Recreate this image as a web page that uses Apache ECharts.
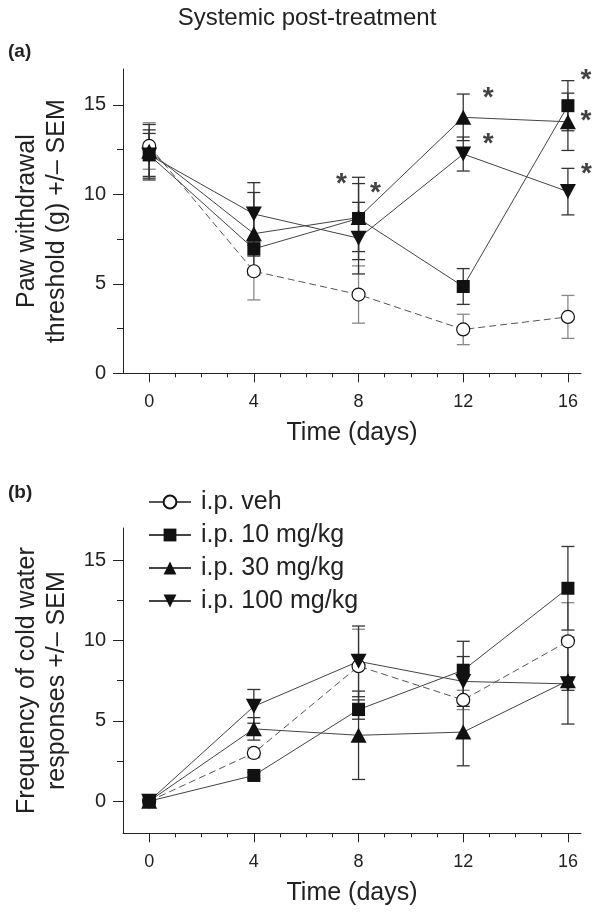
<!DOCTYPE html>
<html><head><meta charset="utf-8">
<script src="https://cdn.jsdelivr.net/npm/echarts@6/dist/echarts.min.js"></script>
<style>html,body{margin:0;padding:0;background:#fff}#c{width:602px;height:913px}</style>
</head><body><div id="c"></div>
<script>
// ---------- data ----------
const days = [0, 4, 8, 12, 16];
const tickDays = [0, 4, 8, 12, 16];
const minorDays = [1, 2, 3, 5, 6, 7, 9, 10, 11, 13, 14, 15];
const yMajor = [0, 5, 10, 15];
const yMinor = [2.5, 7.5, 12.5];
const groupNames = ['i.p. veh', 'i.p. 10 mg/kg', 'i.p. 30 mg/kg', 'i.p. 100 mg/kg'];

// (a) paw withdrawal threshold (g)
const pawVeh     = [12.7, 5.7, 4.4, 2.45, 3.15];
const pawVehErr  = [1.3, 1.6, 1.6, 0.85, 1.2];
const paw10      = [12.2, 6.95, 8.65, 4.85, 14.95];
const paw10Err   = [1.4, 0.4, 2.3, 1.0, 1.4];
const paw30      = [12.4, 7.8, 8.7, 14.3, 14.05];
const paw30Err   = [1.5, 2.3, 1.9, 1.3, 1.6];
const paw100     = [12.2, 8.9, 7.55, 12.25, 10.15];
const paw100Err  = [1.2, 1.75, 2.0, 0.95, 1.3];

// significance asterisks (a)
const starDay   = [7.35, 8.65, 12.95, 12.95, 16.69, 16.69, 16.71];
const starValue = [10.96, 10.45, 15.76, 13.2, 16.77, 14.46, 11.52];

// (b) frequency of cold water responses
const coldVeh    = [0, 3.0, 8.4, 6.3, 9.95];
const coldVehErr = [0, 0.3, 2.3, 0.6, 2.4];
const cold10     = [0, 1.6, 5.7, 8.15, 13.25];
const cold10Err  = [0, 0.2, 0.6, 1.8, 2.6];
const cold30     = [0, 4.5, 4.1, 4.3, 7.5];
const cold30Err  = [0, 0.7, 2.75, 2.1, 2.7];
const cold100    = [0, 5.9, 8.7, 7.45, 7.3];
const cold100Err = [0, 1.05, 2.2, 1.55, 0.4];

// ---------- chart ----------
const FF = 'Liberation Sans, Arial, Helvetica, sans-serif';
const TXT = '#222';
const downTri = 'path://M0,0L2,0L1,1.8Z';
const symbols = ['circle', 'rect', 'triangle', downTri];
const sizes = [13, 13, [16, 15], [16, 15]];
const fills = ['#fff', '#111', '#111', '#111'];
const errColors = ['#888', '#333', '#333', '#333'];

function lineSeries(k, vals, xi, yi) {
  return {
    type: 'line', name: groupNames[k], xAxisIndex: xi, yAxisIndex: yi, z: 3,
    data: days.map((d, i) => [d, vals[i]]),
    symbol: symbols[k], symbolSize: sizes[k], showAllSymbol: true,
    lineStyle: { color: k === 0 ? '#555' : '#444', width: 1, type: k === 0 ? [7, 4] : 'solid' },
    itemStyle: { color: fills[k], borderColor: '#111', borderWidth: k === 0 ? 1.2 : 0 },
    emphasis: { disabled: true }, animation: false
  };
}
function errSeries(k, vals, errs, xi, yi) {
  const color = errColors[k];
  return {
    type: 'custom', xAxisIndex: xi, yAxisIndex: yi, z: 2, silent: true, animation: false,
    data: days.map((d, i) => [d, vals[i] - errs[i], vals[i] + errs[i]]),
    renderItem(params, api) {
      const x = api.value(0);
      const lo = api.coord([x, api.value(1)]);
      const hi = api.coord([x, api.value(2)]);
      const w = 6.5, st = { stroke: color, lineWidth: 1.3 };
      return { type: 'group', children: [
        { type: 'line', shape: { x1: lo[0], y1: lo[1], x2: hi[0], y2: hi[1] }, style: st },
        { type: 'line', shape: { x1: lo[0] - w, y1: lo[1], x2: lo[0] + w, y2: lo[1] }, style: st },
        { type: 'line', shape: { x1: hi[0] - w, y1: hi[1], x2: hi[0] + w, y2: hi[1] }, style: st }
      ]};
    }
  };
}
function mainX(g) {
  return {
    gridIndex: g, type: 'value', min: -1, max: 16.5, position: 'bottom',
    axisLine: { show: true, onZero: false, lineStyle: { color: TXT, width: 1 } },
    axisTick: { show: true, customValues: tickDays, length: 9, lineStyle: { color: TXT } },
    axisLabel: { customValues: tickDays, margin: 20, fontSize: 18, color: TXT, fontFamily: FF },
    splitLine: { show: false },
    name: 'Time (days)', nameLocation: 'middle', nameGap: 47,
    nameTextStyle: { fontSize: 25, color: TXT, fontFamily: FF }
  };
}
function minorX(g) {
  return {
    gridIndex: g, type: 'value', min: -1, max: 16.5, position: 'bottom',
    axisLine: { show: false, onZero: false },
    axisTick: { show: true, customValues: minorDays, length: 4, lineStyle: { color: TXT } },
    axisLabel: { show: false }, splitLine: { show: false }
  };
}
function mainY(g, min, name) {
  return {
    gridIndex: g, type: 'value', min: min, max: 17, position: 'left',
    axisLine: { show: true, onZero: false, lineStyle: { color: TXT, width: 1 } },
    axisTick: { show: true, customValues: yMajor, length: 10, lineStyle: { color: TXT } },
    axisLabel: { customValues: yMajor, margin: 17, fontSize: 20, color: TXT, fontFamily: FF },
    splitLine: { show: false },
    name: name, nameLocation: 'middle', nameGap: 51,
    nameTextStyle: { fontSize: 25, lineHeight: 30, color: TXT, fontFamily: FF }
  };
}
function minorY(g, min) {
  return {
    gridIndex: g, type: 'value', min: min, max: 17, position: 'left',
    axisLine: { show: false, onZero: false },
    axisTick: { show: true, customValues: yMinor, length: 6, lineStyle: { color: TXT } },
    axisLabel: { show: false }, splitLine: { show: false }
  };
}

const pawVals = [pawVeh, paw10, paw30, paw100];
const pawErrs = [pawVehErr, paw10Err, paw30Err, paw100Err];
const coldVals = [coldVeh, cold10, cold30, cold100];
const coldErrs = [coldVehErr, cold10Err, cold30Err, cold100Err];

const series = [];
for (let k = 0; k < 4; k++) series.push(errSeries(k, pawVals[k], pawErrs[k], 0, 0));
for (let k = 0; k < 4; k++) series.push(errSeries(k, coldVals[k], coldErrs[k], 2, 2));
for (let k = 0; k < 4; k++) series.push(lineSeries(k, pawVals[k], 0, 0));
for (let k = 0; k < 4; k++) series.push(lineSeries(k, coldVals[k], 2, 2));
series.push({
  type: 'scatter', xAxisIndex: 0, yAxisIndex: 0, clip: false, silent: true, z: 5, animation: false,
  data: starDay.map((d, i) => [d, starValue[i]]),
  symbolSize: 1, itemStyle: { color: 'rgba(0,0,0,0)' },
  label: { show: true, formatter: '*', position: 'inside', fontSize: 28, fontWeight: 'bold',
           color: '#111', fontFamily: FF, offset: [0, 7] }
});

const option = {
  backgroundColor: '#fff',
  animation: false,
  grid: [
    { left: 123, top: 69, width: 458, height: 304.3, containLabel: false },
    { left: 123, top: 528, width: 458, height: 305.3, containLabel: false }
  ],
  xAxis: [mainX(0), minorX(0), mainX(1), minorX(1)],
  yAxis: [
    mainY(0, 0, 'Paw withdrawal\nthreshold (g) +/\u2013 SEM'), minorY(0, 0),
    mainY(1, -2, 'Frequency of cold water\nresponses +/\u2013 SEM'), minorY(1, -2)
  ],
  legend: {
    orient: 'vertical', left: 148, top: 488, padding: 0,
    itemWidth: 42, itemHeight: 16, itemGap: 5,
    textStyle: { fontSize: 25, color: TXT, fontFamily: FF, lineHeight: 28, padding: [0, 0, 0, 5] },
    data: [
      { name: groupNames[0], lineStyle: { type: 'solid' } },
      groupNames[1], groupNames[2], groupNames[3]
    ],
    selectedMode: false
  },
  graphic: [
    { type: 'text', x: 307, y: 18, style: { text: 'Systemic post-treatment', font: '24px ' + FF,
      fill: TXT, align: 'center', verticalAlign: 'middle' } },
    { type: 'text', x: 8, y: 52, style: { text: '(a)', font: 'bold 19px ' + FF, fill: TXT,
      align: 'left', verticalAlign: 'middle' } },
    { type: 'text', x: 8, y: 493, style: { text: '(b)', font: 'bold 19px ' + FF, fill: TXT,
      align: 'left', verticalAlign: 'middle' } }
  ],
  series: series
};
const chart = echarts.init(document.getElementById('c'), null, { renderer: 'canvas' });
chart.setOption(option);
</script>
</body></html>
